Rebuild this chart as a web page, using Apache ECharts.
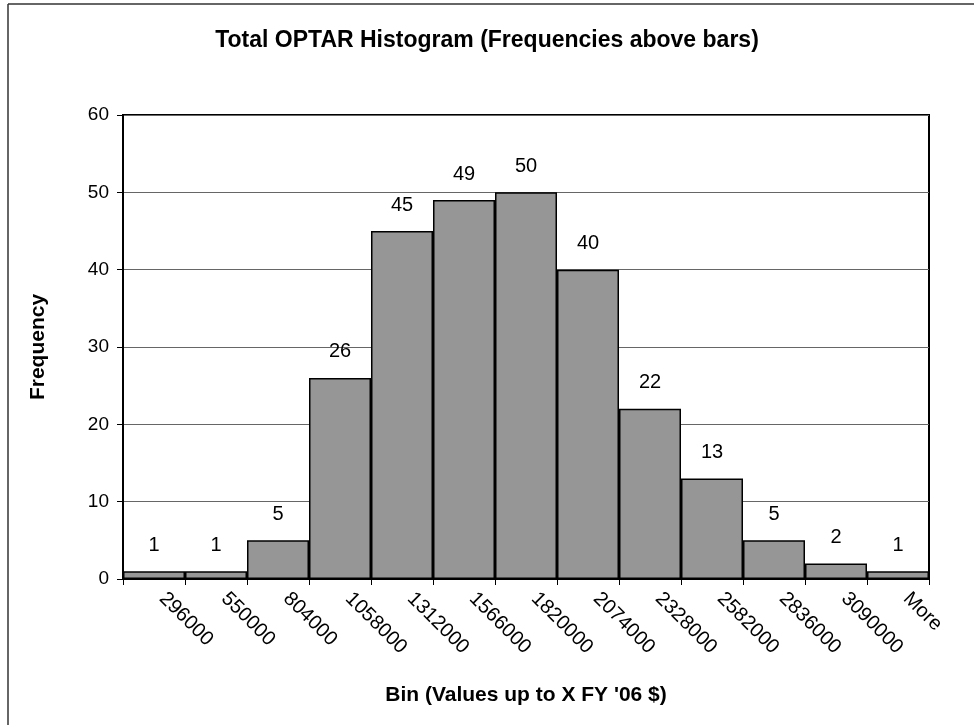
<!DOCTYPE html>
<html>
<head>
<meta charset="utf-8">
<title>Total OPTAR Histogram</title>
<script src="https://cdn.jsdelivr.net/npm/echarts@6/dist/echarts.min.js"></script>
<style>
  html, body { margin: 0; padding: 0; background: #fff; }
  #chart { width: 974px; height: 725px; }
</style>
</head>
<body>
<div id="chart"></div>
<script>
// bins (upper bound of each bin) and frequencies
const bins = ['296000', '550000', '804000', '1058000', '1312000', '1566000', '1820000',
  '2074000', '2328000', '2582000', '2836000', '3090000', 'More']
const frequency = [1, 1, 5, 26, 45, 49, 50, 40, 22, 13, 5, 2, 1]
const yTicks = [0, 10, 20, 30, 40, 50, 60]

const chart = echarts.init(document.getElementById('chart'))

const option = {
  backgroundColor: '#fff',
  animation: false,
  textStyle: { fontFamily: 'Liberation Sans, Arial, sans-serif' },
  title: {
    text: 'Total OPTAR Histogram (Frequencies above bars)',
    left: 'center',
    top: 24,
    textStyle: { fontSize: 23, fontWeight: 'bold', color: '#000' }
  },
  // outer chart border (only left and top edges are visible)
  graphic: [
    { type: 'line', shape: { x1: 8, y1: 4, x2: 8, y2: 725 }, style: { stroke: '#333', lineWidth: 1.5 } },
    { type: 'line', shape: { x1: 8, y1: 4, x2: 974, y2: 4 }, style: { stroke: '#333', lineWidth: 1.5 } }
  ],
  grid: {
    left: 123,
    right: 45,
    top: 115,
    bottom: 146,
    show: true,
    borderColor: '#000',
    borderWidth: 2
  },
  xAxis: {
    type: 'category',
    data: bins,
    name: "Bin (Values up to X FY '06 $)",
    nameLocation: 'middle',
    nameGap: 106,
    nameTextStyle: { fontSize: 21, fontWeight: 'bold', color: '#000' },
    axisLine: { lineStyle: { color: '#000', width: 2 } },
    axisTick: { show: true, length: 6, alignWithLabel: false, lineStyle: { color: '#000' } },
    axisLabel: {
      rotate: -45,
      margin: 8,
      padding: [0, 0, 0, 12],
      fontSize: 20,
      color: '#000',
      interval: 0
    }
  },
  yAxis: {
    type: 'value',
    min: yTicks[0],
    max: yTicks[yTicks.length - 1],
    interval: 10,
    name: 'Frequency',
    nameLocation: 'middle',
    nameGap: 74,
    nameTextStyle: { fontSize: 21, fontWeight: 'bold', color: '#000' },
    axisLine: { show: true, lineStyle: { color: '#000', width: 2 } },
    axisTick: { show: true, length: 6, lineStyle: { color: '#000' } },
    axisLabel: { fontSize: 19, color: '#000', margin: 14 },
    splitLine: { lineStyle: { color: '#666', width: 1 } }
  },
  series: [
    {
      type: 'bar',
      data: frequency,
      barCategoryGap: '0%',
      itemStyle: { color: '#969696', borderColor: '#000', borderWidth: 1.5 },
      label: {
        show: true,
        position: 'top',
        distance: 16,
        fontSize: 20,
        color: '#000'
      }
    }
  ]
}

chart.setOption(option)
</script>
</body>
</html>
